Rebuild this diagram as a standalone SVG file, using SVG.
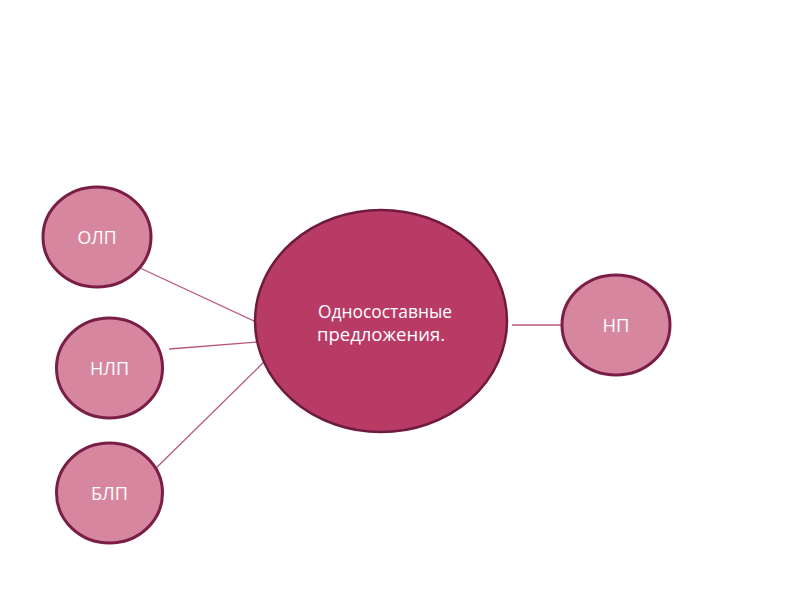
<svg xmlns="http://www.w3.org/2000/svg" width="800" height="600" viewBox="0 0 800 600">
<style>
.small{fill:#D6879F;stroke:#7A1E47;stroke-width:3}
.main{fill:#B83B66;stroke:#6E1B3F;stroke-width:2.5}
.lbl{font-family:"Open Sans","Liberation Sans",sans-serif;font-size:18px;fill:#FFFFFF;text-anchor:middle}
.mlbl{font-family:"Open Sans","Liberation Sans",sans-serif;font-size:18px;fill:#FFFFFF;text-anchor:middle}
.conn{stroke:#B8577E;stroke-width:1.3;fill:none}
</style>
<rect width="800" height="600" fill="#FFFFFF"/>
<g id="connectors">
<line class="conn" x1="140" y1="268" x2="256" y2="322"/>
<line class="conn" x1="169" y1="349" x2="257" y2="342"/>
<line class="conn" x1="150" y1="474" x2="264" y2="362"/>
<line class="conn" x1="512" y1="325" x2="562" y2="325"/>
</g>
<g id="main">
<ellipse class="main" cx="381" cy="321" rx="126" ry="111"/>
<text class="mlbl" x="385" y="318" textLength="134" lengthAdjust="spacingAndGlyphs">Односоставные</text>
<text class="mlbl" x="381" y="341" textLength="128" lengthAdjust="spacingAndGlyphs">предложения.</text>
</g>
<g id="olp">
<ellipse class="small" cx="97" cy="237" rx="54" ry="50"/>
<text class="lbl" x="97" y="244" textLength="39" lengthAdjust="spacingAndGlyphs">ОЛП</text>
</g>
<g id="nlp">
<ellipse class="small" cx="109.5" cy="368" rx="53" ry="50"/>
<text class="lbl" x="109.5" y="375" textLength="39" lengthAdjust="spacingAndGlyphs">НЛП</text>
</g>
<g id="blp">
<ellipse class="small" cx="109.5" cy="493" rx="53" ry="50"/>
<text class="lbl" x="109.5" y="500" textLength="37" lengthAdjust="spacingAndGlyphs">БЛП</text>
</g>
<g id="np">
<ellipse class="small" cx="616" cy="325" rx="54" ry="50"/>
<text class="lbl" x="616" y="332" textLength="27" lengthAdjust="spacingAndGlyphs">НП</text>
</g>
</svg>
